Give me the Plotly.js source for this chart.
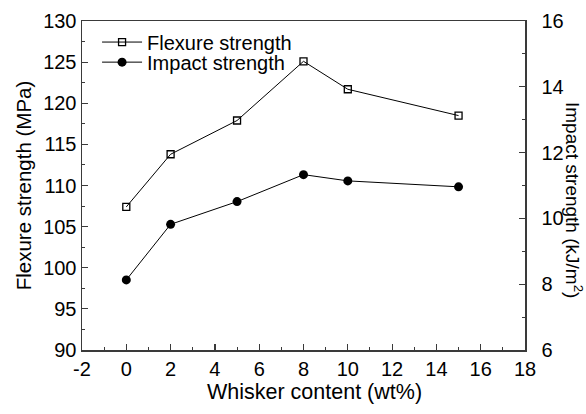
<!DOCTYPE html>
<html>
<head>
<meta charset="utf-8">
<script src="https://cdn.plot.ly/plotly-3.0.1.min.js"></script>
<style>html,body{margin:0;padding:0;background:#fff;}#chart{width:586px;height:414px;}</style>
</head>
<body>
<div id="chart"></div>
<script>
const whisker = [0, 2, 5, 8, 10, 15];
const flexure = [107.4, 113.8, 117.9, 125.1, 121.7, 118.5];
const impact = [8.13, 9.82, 10.51, 11.33, 11.14, 10.96];
const xTicks = [-2, 0, 2, 4, 6, 8, 10, 12, 14, 16, 18];
const yLeftTicks = [90, 95, 100, 105, 110, 115, 120, 125, 130];
const yRightTicks = [6, 8, 10, 12, 14, 16];

const FONT = 'Liberation Sans, Arial, sans-serif';
const AX = '#3a3a3a';

const traces = [
  {
    x: whisker, y: flexure, name: 'Flexure strength', type: 'scatter', mode: 'lines+markers',
    line: {color: '#000', width: 1},
    marker: {symbol: 'square-open', size: 7, color: '#000', line: {width: 1.3, color: '#000'}},
    yaxis: 'y', legend: 'legend'
  },
  {
    x: whisker, y: impact, name: 'Impact strength', type: 'scatter', mode: 'lines+markers',
    line: {color: '#000', width: 1},
    marker: {symbol: 'circle', size: 9, color: '#000'},
    yaxis: 'y2', legend: 'legend2'
  }
];

const legendBase = {xanchor: 'left', yanchor: 'middle', bgcolor: 'rgba(0,0,0,0)',
                    font: {size: 20, family: FONT, color: '#000'}, itemwidth: 40};

const layout = {
  width: 586, height: 414,
  margin: {l: 82, r: 61, t: 21, b: 64},
  paper_bgcolor: '#fff', plot_bgcolor: '#fff',
  font: {family: FONT, size: 20, color: '#000'},
  showlegend: true,
  legend: Object.assign({x: 0.034, y: 0.936}, legendBase),
  legend2: Object.assign({x: 0.034, y: 0.875}, legendBase),
  xaxis: {
    range: [-2, 18], tickvals: xTicks, ticktext: xTicks.map(String),
    showgrid: false, zeroline: false, showline: true, linecolor: AX, linewidth: 1.5, mirror: true,
    ticks: 'inside', ticklen: 6, tickwidth: 1.2, tickcolor: AX,
    minor: {dtick: 1, ticks: 'inside', ticklen: 3, tickcolor: AX, tickwidth: 1},
    tickfont: {size: 20}
  },
  yaxis: {
    range: [90, 130], tickvals: yLeftTicks, ticktext: yLeftTicks.map(String),
    showgrid: false, zeroline: false, showline: true, linecolor: AX, linewidth: 1.5,
    ticks: 'inside', ticklen: 6, tickwidth: 1.2, tickcolor: AX,
    minor: {dtick: 2.5, ticks: 'inside', ticklen: 3, tickcolor: AX, tickwidth: 1},
    tickfont: {size: 20},
    title: {text: 'Flexure strength (MPa)', font: {size: 20.5}, standoff: 6}
  },
  yaxis2: {
    range: [6, 16], tickvals: yRightTicks, ticktext: yRightTicks.map(String),
    overlaying: 'y', side: 'right',
    showgrid: false, zeroline: false, showline: true, linecolor: AX, linewidth: 1.5,
    ticks: 'inside', ticklen: 6, tickwidth: 1.2, tickcolor: AX,
    minor: {dtick: 1, ticks: 'inside', ticklen: 3, tickcolor: AX, tickwidth: 1},
    tickfont: {size: 20}, ticklabelstandoff: 11
  },
  annotations: [
    {
      text: 'Whisker content (wt%)',
      xref: 'paper', yref: 'paper', x: 0.5, xshift: 11, y: 0, yshift: -42,
      xanchor: 'center', yanchor: 'middle',
      showarrow: false, font: {size: 21.5, family: FONT, color: '#000'}
    },
    {
      text: 'Impact strength (kJ/m<sup>2</sup>)', textangle: 90,
      xref: 'paper', yref: 'paper', x: 1, xshift: 49, y: 0.456, xanchor: 'center', yanchor: 'middle',
      showarrow: false, font: {size: 19, family: FONT, color: '#000'}
    }
  ]
};

Plotly.newPlot('chart', traces, layout, {displayModeBar: false, staticPlot: true});
</script>
</body>
</html>
